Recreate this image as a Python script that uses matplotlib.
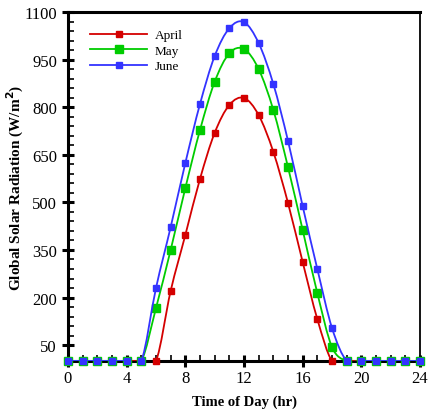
import matplotlib
matplotlib.use('Agg')
import matplotlib.pyplot as plt
from matplotlib.path import Path
from matplotlib.patches import PathPatch
from matplotlib.lines import Line2D
from matplotlib.ticker import MultipleLocator, FixedLocator

hours = list(range(25))
april = [0, 0, 0, 0, 0, 0, 0, 221, 397, 574, 719, 807, 829, 775, 659, 498, 312, 132, 0, 0, 0, 0, 0, 0, 0]
may = [0, 0, 0, 0, 0, 0, 167, 350, 545, 728, 880, 970, 983, 920, 791, 611, 413, 214, 44, 0, 0, 0, 0, 0, 0]
june = [0, 0, 0, 0, 0, 0, 230, 422, 624, 810, 961, 1049, 1068, 1002, 873, 694, 488, 290, 104, 0, 0, 0, 0, 0, 0]

labels = ['April', 'May', 'June']
colors = ['#d40000', '#00cc00', '#3333ff']
marker_sizes = [4.6, 6.0, 3.8]

plt.rcParams['font.family'] = ['Liberation Serif', 'DejaVu Serif']


def spline_path(x, y):
    # Catmull-Rom through the hourly points, drawn as cubic beziers
    n = len(x)
    verts = [(x[0], y[0])]
    codes = [Path.MOVETO]
    for i in range(n - 1):
        x0, y0 = (x[i - 1], y[i - 1]) if i > 0 else (x[i], y[i])
        x3, y3 = (x[i + 2], y[i + 2]) if i + 2 < n else (x[i + 1], y[i + 1])
        c1 = (x[i] + (x[i + 1] - x0) / 6, y[i] + (y[i + 1] - y0) / 6)
        c2 = (x[i + 1] - (x3 - x[i]) / 6, y[i + 1] - (y3 - y[i]) / 6)
        verts += [c1, c2, (x[i + 1], y[i + 1])]
        codes += [Path.CURVE4] * 3
    return Path(verts, codes)


fig = plt.figure(figsize=(4.28, 4.14), dpi=100)
ax = fig.add_axes([68 / 428, 1 - 362 / 414, 352 / 428, 349 / 414])

handles = []
for k, series in enumerate([april, may, june]):
    ax.add_patch(PathPatch(spline_path(hours, series), fill=False, edgecolor=colors[k], lw=1.3, zorder=3 + k))
    ax.plot(hours, series, ls='none', marker='s', ms=marker_sizes[k], color=colors[k], clip_on=False, zorder=3 + k)
    handles.append(Line2D([], [], color=colors[k], lw=1.3, marker='s', ms=marker_sizes[k] * 1.05))

ax.set_xlim(0, 24)
ax.set_ylim(0, 1100)
ax.xaxis.set_major_locator(MultipleLocator(4))
ax.xaxis.set_minor_locator(MultipleLocator(1))
ax.yaxis.set_major_locator(FixedLocator(list(range(50, 1101, 150))))
ax.yaxis.set_minor_locator(FixedLocator(list(range(50, 1101, 30))))

ax.tick_params(which='major', direction='inout', length=9, width=2.2, labelsize=12, top=False, right=False)
ax.tick_params(which='minor', direction='in', length=4, width=1.2, top=False, right=False)
ax.tick_params(axis='x', which='major', pad=2)

for side in ['left', 'bottom', 'top']:
    ax.spines[side].set_linewidth(2.2)
ax.spines['right'].set_linewidth(1.3)

ax.set_xlabel('Time of Day (hr)', fontsize=10.5, fontweight='bold', labelpad=6)
ax.set_ylabel('Global Solar Radiation (W/m$^\\mathbf{2}$)', fontsize=11, fontweight='bold')
ax.yaxis.set_label_coords(-0.118, 0.5)

ax.legend(handles, labels, loc='upper left', frameon=False, fontsize=9.5, handlelength=4.3,
          handletextpad=0.6, labelspacing=0.25, bbox_to_anchor=(0.03, 0.985))

fig.savefig('out.png', dpi=100)
